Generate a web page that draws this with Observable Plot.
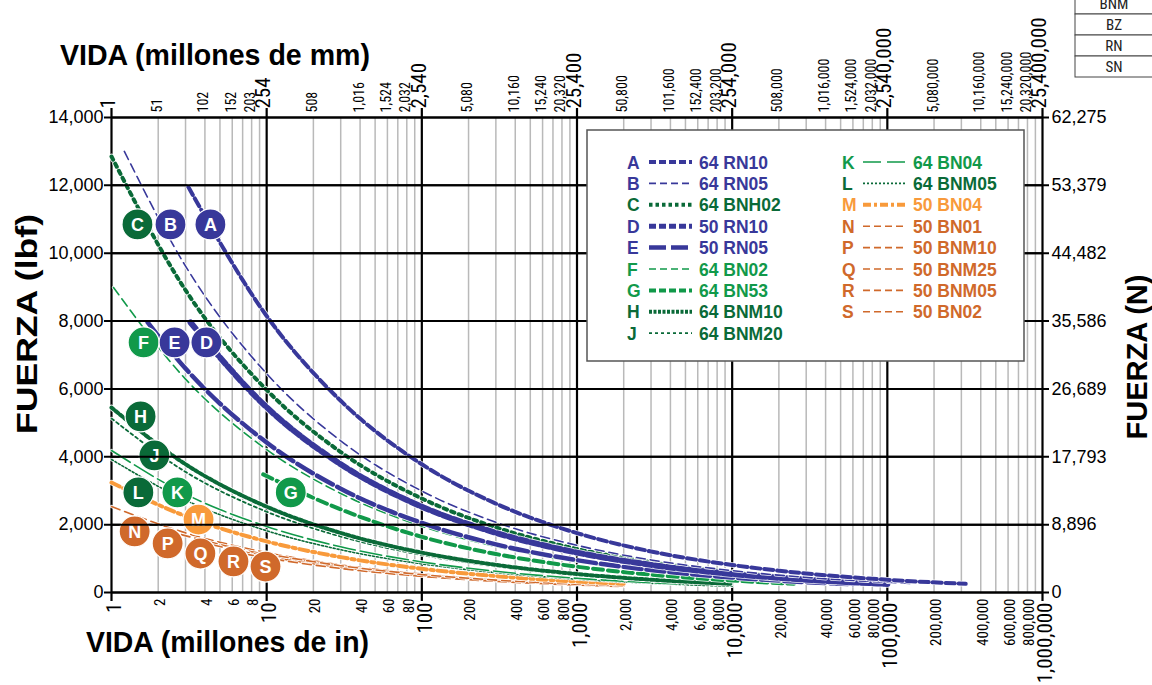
<!DOCTYPE html>
<html><head><meta charset="utf-8">
<script src="https://cdn.jsdelivr.net/npm/d3@7"></script>
<script src="https://cdn.jsdelivr.net/npm/@observablehq/plot@0.6"></script>
<style>
body{margin:0;background:#fff;}
#chart{position:relative;width:1152px;height:685px;overflow:hidden;}
</style></head><body><div id="chart"></div>
<script>
// ---------- axis ticks & labels ----------
const inTicks = [1,2,4,6,8,10,20,40,60,80,100,200,400,600,800,1000,2000,4000,6000,8000,10000,20000,40000,60000,80000,100000,200000,400000,600000,800000,1000000];
const inLabels = ["1","2","4","6","8","10","20","40","60","80","100","200","400","600","800","1,000","2,000","4,000","6,000","8,000","10,000","20,000","40,000","60,000","80,000","100,000","200,000","400,000","600,000","800,000","1,000,000"];
const mmLabels = ["1","51","102","152","203","254","508","1,016","1,524","2,032","2,540","5,080","10,160","15,240","20,320","25,400","50,800","101,600","152,400","203,200","254,000","508,000","1,016,000","1,524,000","2,032,000","2,540,000","5,080,000","10,160,000","15,240,000","20,320,000","25,400,000"];
const decades = [1,10,100,1000,10000,100000,1000000];
const lbfTicks = [0,2000,4000,6000,8000,10000,12000,14000];
const newtonLabels = ["0","8,896","17,793","26,689","35,586","44,482","53,379","62,275"];

// ---------- series (life in millions of in, force in lbf) ----------
const lifeA = [3.13,10,30,100,300,1000,3000,10000,30000,100000,320000];
const forceA = [11950,8150,5650,3780,2620,1750,1210,810,560,375,255];
const lifeB = [1.21,3,10,30,100,300,1000,3000,10000,30000,100000,150000];
const forceB = [13000,9620,6450,4470,2990,2070,1390,960,645,445,300,262];
const lifeC = [1,3,10,30,100,300,1000,3000,10000,30000,50000];
const forceC = [12850,8910,5970,4140,2770,1920,1285,890,597,414,349];
const lifeD = [3.23,10,30,100,300,1000,3000,10000,30000,100000];
const forceD = [7960,5460,3780,2530,1760,1176,815,546,378,253];
const lifeE = [1.71,3,10,30,100,300,1000,3000,10000,30000,60000];
const forceE = [7960,6600,4420,3060,2050,1420,952,660,442,306,243];
const lifeF = [1.03,3,10,30,100,300,1000,3000,10000,20000];
const forceF = [8990,6290,4210,2920,1955,1356,908,629,421,334];
const lifeG = [9.5,30,100,300,1000,3000,10000,25000];
const forceG = [3480,2450,1640,1135,760,527,353,260];
const lifeH = [1,3,10,30,100,300,1000,3000,10000];
const forceH = [5450,3780,2530,1755,1175,815,545,378,253];
const lifeJ = [1,3,10,30,100,300,1000,3000,10000];
const forceJ = [5130,3555,2380,1650,1105,766,513,356,238];
const lifeK = [1,3,10,30,100,300,1000,3000,4850];
const forceK = [4185,2900,1945,1347,901,625,419,290,247];
const lifeL = [1,3,10,30,100,300,1000,3000,10000];
const forceL = [3920,2720,1820,1260,844,586,392,272,182];
const lifeM = [1,3,10,30,100,300,1000,2000];
const forceM = [3240,2250,1505,1043,698,484,324,257];
const lifeN = [1,3,10,30,100,300,1000,2000];
const forceN = [2535,1757,1176,815,546,379,253,201];
const lifeP = [2.3,10,30,100,300,1000,2000];
const forceP = [1810,1114,772,517,359,240,190];
const lifeQ = [3.7,10,30,100,300,1000,2000];
const forceQ = [1490,1068,740,495,344,230,183];
const lifeR = [6.1,10,30,100,300,1000,2000];
const forceR = [1200,1021,708,474,329,220,175];
const lifeS = [9.8,30,100,300,1000,2000];
const forceS = [1145,790,528,366,245,194];

const seriesIds = ["A","B","C","D","E","F","G","H","J","K","L","M","N","P","Q","R","S"];
const seriesNames = ["64 RN10","64 RN05","64 BNH02","50 RN10","50 RN05","64 BN02","64 BN53","64 BNM10","64 BNM20","64 BN04","64 BNM05","50 BN04","50 BN01","50 BNM10","50 BNM25","50 BNM05","50 BN02"];
const seriesLife = [lifeA,lifeB,lifeC,lifeD,lifeE,lifeF,lifeG,lifeH,lifeJ,lifeK,lifeL,lifeM,lifeN,lifeP,lifeQ,lifeR,lifeS];
const seriesForce = [forceA,forceB,forceC,forceD,forceE,forceF,forceG,forceH,forceJ,forceK,forceL,forceM,forceN,forceP,forceQ,forceR,forceS];

// circle-label anchors (data coordinates)
const labelIds   = ["C","B","A","F","E","D","H","J","L","K","G","M","N","P","Q","R","S"];
const labelLife  = [1.47,2.40,4.34,1.61,2.55,4.09,1.54,1.89,1.49,2.66,14.3,3.64,1.41,2.30,3.74,6.11,9.83];
const labelForce = [10850,10850,10850,7370,7370,7370,5190,4040,2950,2950,2950,2150,1800,1445,1150,915,765];

const tableRows = ["BNM","BZ","RN","SN"];

// ---------- styles ----------
const BLUE="#38389a", DKGREEN="#0a6a38", GREEN="#11994a", LTORANGE="#f89a3b", ORANGE="#d0692b";
const style = {
  A:{c:BLUE,w:4,d:"9,4"}, B:{c:BLUE,w:1.6,d:"9,5"}, C:{c:DKGREEN,w:4,d:"3.5,4.5"},
  D:{c:BLUE,w:6,d:"8,3.5"}, E:{c:BLUE,w:4.5,d:"18,5"}, F:{c:GREEN,w:1.6,d:"9,5"},
  G:{c:GREEN,w:4,d:"10,5"}, H:{c:DKGREEN,w:4,d:"3,2.5"}, J:{c:DKGREEN,w:1.8,d:"3,3"},
  K:{c:GREEN,w:1.6,d:"22,5"}, L:{c:DKGREEN,w:1.6,d:"2,2"}, M:{c:LTORANGE,w:4,d:"9,4,3,4"},
  N:{c:ORANGE,w:1.6,d:"9,5"}, P:{c:ORANGE,w:1.6,d:"9,5"}, Q:{c:ORANGE,w:1.6,d:"9,5"},
  R:{c:ORANGE,w:1.6,d:"9,5"}, S:{c:ORANGE,w:1.6,d:"9,5"}
};
const legendDash = {A:"7,3",B:"7,4",C:"3.5,3",D:"7,3",E:"17,5",F:"7,4",G:"7,3",H:"3,1.5",J:"3,3",K:"18,6",L:"2,2",M:"8,3,3,3",N:"7,4",P:"7,4",Q:"7,4",R:"7,4",S:"7,4"};
const labelFill = {A:BLUE,B:BLUE,D:BLUE,E:BLUE,C:DKGREEN,H:DKGREEN,J:DKGREEN,L:DKGREEN,F:GREEN,G:GREEN,K:GREEN,M:LTORANGE,N:ORANGE,P:ORANGE,Q:ORANGE,R:ORANGE,S:ORANGE};

const NARROW = "'Liberation Sans Narrow','Arial Narrow','Roboto Condensed','DejaVu Sans Condensed',sans-serif";
const SANS = "'Liberation Sans',Arial,Helvetica,sans-serif";

// ---------- derived tables ----------
const rows = seriesIds.flatMap((id,k) => seriesLife[k].map((x,i) => ({id, x, y: seriesForce[k][i]})));
const labels = labelIds.map((id,i) => ({id, x: labelLife[i], y: labelForce[i]}));
const minorGrid = decades.slice(0,-1).flatMap(d => [2,3,4,5,6,7,8,9].map(m => m*d));
const minorTicks = inTicks.filter(t => !decades.includes(t));
const inLab = new Map(inTicks.map((t,i)=>[t,inLabels[i]]));
const mmLab = new Map(inTicks.map((t,i)=>[t,mmLabels[i]]));
const nLab = new Map(lbfTicks.map((t,i)=>[t,newtonLabels[i]]));

const drawOrder = ["N","P","Q","R","S","M","L","K","J","H","G","F","C","E","D","B","A"];
const lineMarks = drawOrder.flatMap(id => {
  const s = style[id], data = rows.filter(r => r.id === id);
  return [
    Plot.line(data, {x:"x", y:"y", stroke:"white", strokeWidth:s.w+1.6, strokeDasharray:s.d, curve:"monotone-x", strokeOpacity:0.9}),
    Plot.line(data, {x:"x", y:"y", stroke:s.c, strokeWidth:s.w, strokeDasharray:s.d, curve:"monotone-x"})
  ];
});

const svg = Plot.plot({
  width:1152, height:685,
  marginLeft:111, marginRight:110, marginTop:117, marginBottom:93,
  style:{fontFamily:SANS, background:"white", color:"black"},
  x:{type:"log", domain:[1,1000000], axis:null},
  y:{domain:[0,14000], axis:null},
  marks:[
    Plot.ruleX(minorGrid, {stroke:"#b9b9b9", strokeWidth:1.5}),
    Plot.ruleY(lbfTicks, {stroke:"black", strokeWidth:2}),
    Plot.ruleX(decades, {stroke:"black", strokeWidth:2.2, insetTop:-9, insetBottom:-9}),
    ...lineMarks,
    Plot.dot(labels, {x:"x", y:"y", r:15.5, fill:d=>labelFill[d.id], stroke:"white", strokeWidth:1.2}),
    Plot.text(labels, {x:"x", y:"y", text:"id", fill:"white", fontWeight:"bold", fontSize:18, fontFamily:SANS, dy:1}),
    // y axes
    Plot.tickY(lbfTicks, {y:d=>d, stroke:"black", strokeWidth:2, insetLeft:-7, insetRight:-7, frameAnchor:"left"}),
    Plot.text(lbfTicks, {y:d=>d, frameAnchor:"left", text:d=>d3.format(",")(d), textAnchor:"end", dx:-8, fontSize:18, fontFamily:SANS}),
    Plot.text(lbfTicks, {y:d=>d, frameAnchor:"right", text:d=>nLab.get(d), textAnchor:"start", dx:9, fontSize:18, fontFamily:SANS}),
    // bottom x axis (inches)
    Plot.text(minorTicks, {x:d=>d, frameAnchor:"bottom", lineAnchor:"middle", text:d=>inLab.get(d), rotate:-90, textAnchor:"end", dx:2, dy:6, fontSize:15, fontFamily:NARROW}),
    Plot.text(decades, {x:d=>d, frameAnchor:"bottom", lineAnchor:"middle", text:d=>inLab.get(d), rotate:-90, textAnchor:"end", dx:3, dy:10, fontSize:21, fontFamily:NARROW}),
    // top x axis (mm)
    Plot.text(minorTicks, {x:d=>d, frameAnchor:"top", lineAnchor:"middle", text:d=>mmLab.get(d), rotate:-90, textAnchor:"start", dx:-1, dy:-5, fontSize:14, fontFamily:NARROW}),
    Plot.text(decades, {x:d=>d, frameAnchor:"top", lineAnchor:"middle", text:d=>mmLab.get(d), rotate:-90, textAnchor:"start", dx:-3, dy:-9, fontSize:21, fontFamily:NARROW})
  ]
});

const g = d3.select(svg);
// axis titles
g.append("text").attr("x",60).attr("y",65).attr("text-anchor","start").attr("font-family",SANS).attr("font-weight","bold").attr("font-size",29)
  .attr("textLength",310).attr("lengthAdjust","spacingAndGlyphs").text("VIDA (millones de mm)");
g.append("text").attr("x",86).attr("y",652).attr("text-anchor","start").attr("font-family",SANS).attr("font-weight","bold").attr("font-size",29)
  .attr("textLength",283).attr("lengthAdjust","spacingAndGlyphs").text("VIDA (millones de in)");
g.append("text").attr("transform","translate(37,324) rotate(-90)").attr("text-anchor","middle").attr("font-family",SANS)
  .attr("font-weight","bold").attr("font-size",30).attr("textLength",220).attr("lengthAdjust","spacingAndGlyphs").text("FUERZA (lbf)");
g.append("text").attr("transform","translate(1147,357) rotate(-90)").attr("text-anchor","middle").attr("font-family",SANS)
  .attr("font-weight","bold").attr("font-size",29).attr("textLength",165).attr("lengthAdjust","spacingAndGlyphs").text("FUERZA (N)");

// legend box
const lg = g.append("g").attr("text-anchor","start");
lg.append("rect").attr("x",587).attr("y",130).attr("width",437).attr("height",231).attr("fill","white").attr("stroke","#555").attr("stroke-width",1.5);
seriesIds.forEach((id,k) => {
  const col = k < 9 ? 0 : 1, row = k < 9 ? k : k-9;
  const x0 = col ? 842 : 627, y0 = 162 + row*21.4;
  const s = style[id];
  lg.append("text").attr("x",x0).attr("y",y0+6.5).attr("font-family",SANS).attr("font-weight","bold").attr("font-size",17.5).attr("fill",s.c).text(id);
  lg.append("line").attr("x1",x0+(col?21:22)).attr("x2",x0+(col?64:65)).attr("y1",y0).attr("y2",y0)
    .attr("stroke",s.c).attr("stroke-width",Math.min(s.w,5)).attr("stroke-dasharray",legendDash[id]);
  lg.append("text").attr("x",x0+(col?71:72)).attr("y",y0+6.5).attr("font-family",SANS).attr("font-weight","bold").attr("font-size",17.5).attr("fill",s.c).text(seriesNames[k]);
});

// partial table at top-right
const tb = g.append("g");
const rowEdges = [-8,14,35,56,77];
tableRows.forEach((t,i) => {
  tb.append("rect").attr("x",1075).attr("y",rowEdges[i]).attr("width",90).attr("height",rowEdges[i+1]-rowEdges[i]).attr("fill","white").attr("stroke","#444").attr("stroke-width",1);
  tb.append("text").attr("x",1114).attr("y",rowEdges[i+1]-5).attr("text-anchor","middle").attr("font-family",NARROW).attr("font-size",15).attr("fill","#222").text(t);
});

document.getElementById("chart").appendChild(svg);
</script></body></html>
